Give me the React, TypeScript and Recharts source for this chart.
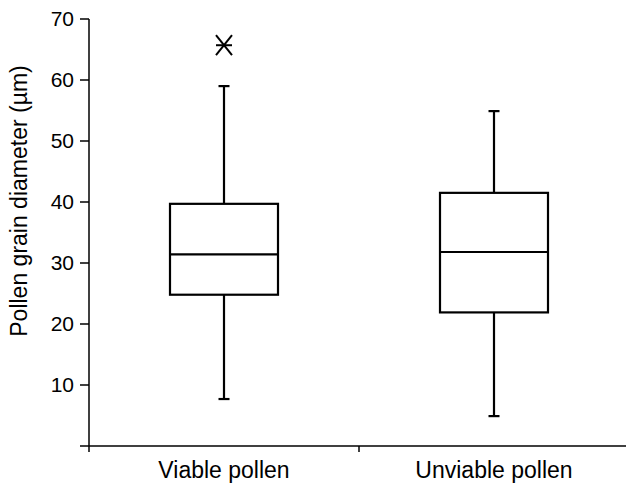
import { ComposedChart, Bar, Scatter, XAxis, YAxis, Label } from 'recharts'

const categories = ['Viable pollen', 'Unviable pollen']
const minValues = [7.7, 4.9]
const q1Values = [24.8, 21.9]
const medianValues = [31.4, 31.8]
const q3Values = [39.7, 41.5]
const maxValues = [59.0, 54.9]
const outlierValues: Array<number | null> = [65.7, null]

const yTicks = [0, 10, 20, 30, 40, 50, 60, 70]

const data = categories.map((name, i) => ({
  name,
  box: [q1Values[i], q3Values[i]],
  min: minValues[i],
  q1: q1Values[i],
  median: medianValues[i],
  q3: q3Values[i],
  max: maxValues[i],
  outlier: outlierValues[i],
}))

const FONT = 'Arial, "Liberation Sans", Helvetica, sans-serif'
const INK = '#000'
const LABEL_GAP = 16

/** Draws the whole box-and-whisker from the q1..q3 range bar. */
function BoxShape(props: any) {
  const { x, y, width, height, payload } = props
  if (!payload || !Number.isFinite(y)) return <g />
  const top = Math.min(y, y + height)
  const h = Math.abs(height)
  const unit = h / (payload.q3 - payload.q1)
  const toY = (v: number) => top + (payload.q3 - v) * unit
  const cx = x + width / 2
  const cap = 5.5

  return (
    <g stroke={INK} strokeWidth={2.2} fill="none">
      <line x1={cx} x2={cx} y1={toY(payload.max)} y2={top} />
      <line x1={cx - cap} x2={cx + cap} y1={toY(payload.max)} y2={toY(payload.max)} />
      <line x1={cx} x2={cx} y1={top + h} y2={toY(payload.min)} />
      <line x1={cx - cap} x2={cx + cap} y1={toY(payload.min)} y2={toY(payload.min)} />
      <rect x={x} y={top} width={width} height={h} fill="#fff" />
      <line x1={x} x2={x + width} y1={toY(payload.median)} y2={toY(payload.median)} />
    </g>
  )
}

function Asterisk(props: any) {
  const { cx, cy, payload } = props
  if (!payload || payload.outlier == null || !Number.isFinite(cy)) return <g />
  return (
    <g stroke={INK} strokeWidth={2}>
      <line x1={cx - 8} y1={cy - 10} x2={cx + 8} y2={cy + 10} />
      <line x1={cx - 8} y1={cy + 10} x2={cx + 8} y2={cy - 10} />
      <line x1={cx - 8} y1={cy} x2={cx + 8} y2={cy} />
    </g>
  )
}

// category label plus a tick mark on the left edge of its band
function CategoryTick(props: any) {
  const { x, y, payload } = props
  const axisY = y - LABEL_GAP
  const edgeX = x - (payload?.offset ?? 0)
  return (
    <g>
      <line x1={edgeX} x2={edgeX} y1={axisY} y2={axisY + 6} stroke={INK} strokeWidth={1.5} />
      <text
        x={x}
        y={y}
        dy="0.71em"
        textAnchor="middle"
        fill={INK}
        fontSize={23}
        fontFamily={FONT}
      >
        {payload?.value}
      </text>
    </g>
  )
}

export default function App() {
  return (
    <div
      style={{
        position: 'absolute',
        left: 0,
        top: 0,
        width: 626,
        height: 483,
        overflow: 'hidden',
        background: '#fff',
      }}
    >
      <ComposedChart
        width={640}
        height={483}
        data={data}
        margin={{ top: 19, right: 11, bottom: 0, left: 0 }}
        barCategoryGap="30%"
      >
        <XAxis
          dataKey="name"
          height={37}
          interval={0}
          tickLine={false}
          tickSize={0}
          tickMargin={LABEL_GAP}
          stroke={INK}
          strokeWidth={1.5}
          tick={CategoryTick}
        />
        <YAxis
          width={89}
          domain={[0, 70]}
          ticks={yTicks}
          interval={0}
          tickSize={9}
          tickMargin={6}
          fontSize={21}
          tickFormatter={(v: number) => (v === 0 ? '' : String(v))}
          stroke={INK}
          strokeWidth={1.5}
          tick={{ fill: INK, fontSize: 21, fontFamily: FONT }}
        >
          <Label
            content={() => (
              <text
                x={27}
                y={201}
                transform="rotate(-90, 27, 201)"
                textAnchor="middle"
                fill={INK}
                fontSize={23}
                fontFamily={FONT}
              >
                Pollen grain diameter (µm)
              </text>
            )}
          />
        </YAxis>
        <Bar dataKey="box" shape={BoxShape} isAnimationActive={false} />
        <Scatter dataKey="outlier" shape={Asterisk} isAnimationActive={false} />
      </ComposedChart>
    </div>
  )
}
